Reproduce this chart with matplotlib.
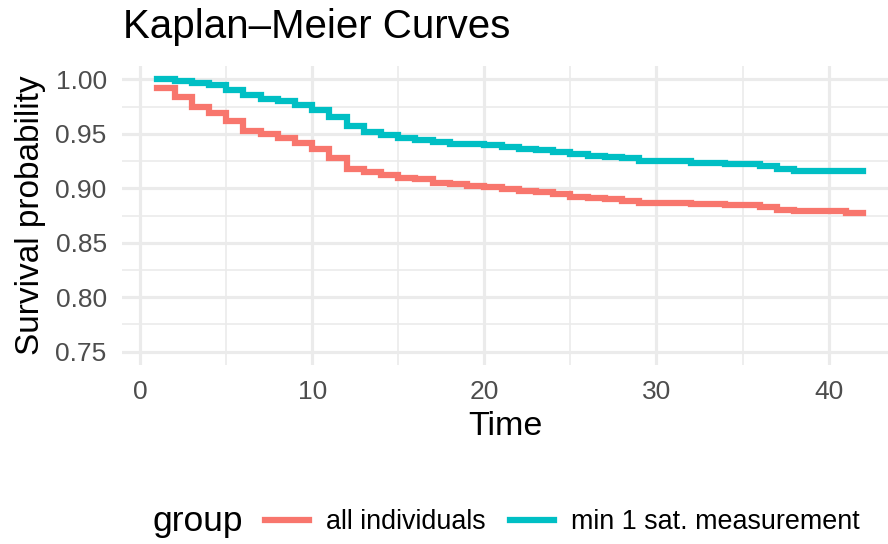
import matplotlib.pyplot as plt
from matplotlib.lines import Line2D

plt.rcParams['font.family'] = ['Liberation Sans', 'DejaVu Sans']

# Kaplan-Meier step data
time_all = [1, 2, 3, 4, 5, 6, 7, 8, 9, 10, 11, 12, 13, 14, 15, 16, 17, 18, 19, 20,
            21, 22, 23, 24, 25, 26, 27, 28, 29, 32, 34, 36, 37, 38, 41, 42]
surv_all = [0.992, 0.984, 0.975, 0.969, 0.9615, 0.953, 0.9496, 0.9457, 0.9417, 0.9356,
            0.9274, 0.918, 0.9145, 0.912, 0.909, 0.9085, 0.9045, 0.9035, 0.902, 0.9008,
            0.8993, 0.8977, 0.8962, 0.8947, 0.8922, 0.891, 0.8905, 0.8886, 0.8868, 0.8855,
            0.8843, 0.8825, 0.880, 0.879, 0.877, 0.877]

time_sat = [1, 2, 3, 4, 5, 6, 7, 8, 9, 10, 11, 12, 13, 14, 15, 16, 17, 18, 19, 20,
            21, 22, 23, 24, 25, 26, 27, 28, 29, 32, 34, 36, 37, 38, 42]
surv_sat = [1.0, 0.9985, 0.9966, 0.9945, 0.9905, 0.986, 0.9823, 0.980, 0.976, 0.9716,
            0.9655, 0.957, 0.952, 0.9487, 0.9457, 0.9441, 0.942, 0.941, 0.9405, 0.9393,
            0.938, 0.936, 0.935, 0.9335, 0.931, 0.9295, 0.929, 0.9274, 0.925, 0.9234,
            0.9222, 0.9203, 0.918, 0.9158, 0.9158]

labels = ['all individuals', 'min 1 sat. measurement']
colors = ['#F8766D', '#00BFC4']

W, H = 888, 544
fig = plt.figure(figsize=(W / 100, H / 100), dpi=100)
ax = fig.add_axes([122 / W, (H - 365) / H, (888 - 122) / W, (365 - 66) / H])

ax.step(time_all, surv_all, where='post', color=colors[0], lw=4.5, solid_joinstyle='miter')
ax.step(time_sat, surv_sat, where='post', color=colors[1], lw=4.5, solid_joinstyle='miter')

ax.set_xlim(-1.05, 43.45)
ax.set_ylim(0.7378, 1.0122)
ax.set_xticks([0, 10, 20, 30, 40])
ax.set_xticks([5, 15, 25, 35], minor=True)
ax.set_yticks([0.75, 0.80, 0.85, 0.90, 0.95, 1.00])
ax.set_yticklabels(['0.75', '0.80', '0.85', '0.90', '0.95', '1.00'])
ax.set_yticks([0.775, 0.825, 0.875, 0.925, 0.975], minor=True)

# theme_minimal look
for s in ax.spines.values():
    s.set_visible(False)
ax.grid(which='major', color='#EBEBEB', lw=2.3)
ax.grid(which='minor', color='#EBEBEB', lw=1.2)
ax.set_axisbelow(True)
ax.tick_params(which='both', length=0, labelsize=19, labelcolor='#4D4D4D', pad=11)

ax.set_xlabel('Time', fontsize=24.5, labelpad=5)
ax.set_ylabel('Survival probability', fontsize=24, labelpad=7)

fig.text(123 / W, 1 - 38 / H, 'Kaplan\u2013Meier Curves', fontsize=29, va='baseline', ha='left')

# legend at the bottom, title to the left
fig.text(152 / W, 1 - 522 / H, 'group', fontsize=25.5, va='center', ha='left')
handles = [Line2D([], [], color=c, lw=4.5) for c in colors]
fig.legend(handles, labels, ncol=2, frameon=False, fontsize=19.4,
           loc='center left', bbox_to_anchor=(265 / W, 1 - 522 / H),
           borderpad=0, borderaxespad=0, handlelength=1.65, handletextpad=0.62,
           columnspacing=0.9)

fig.savefig('out.png', dpi=100)
